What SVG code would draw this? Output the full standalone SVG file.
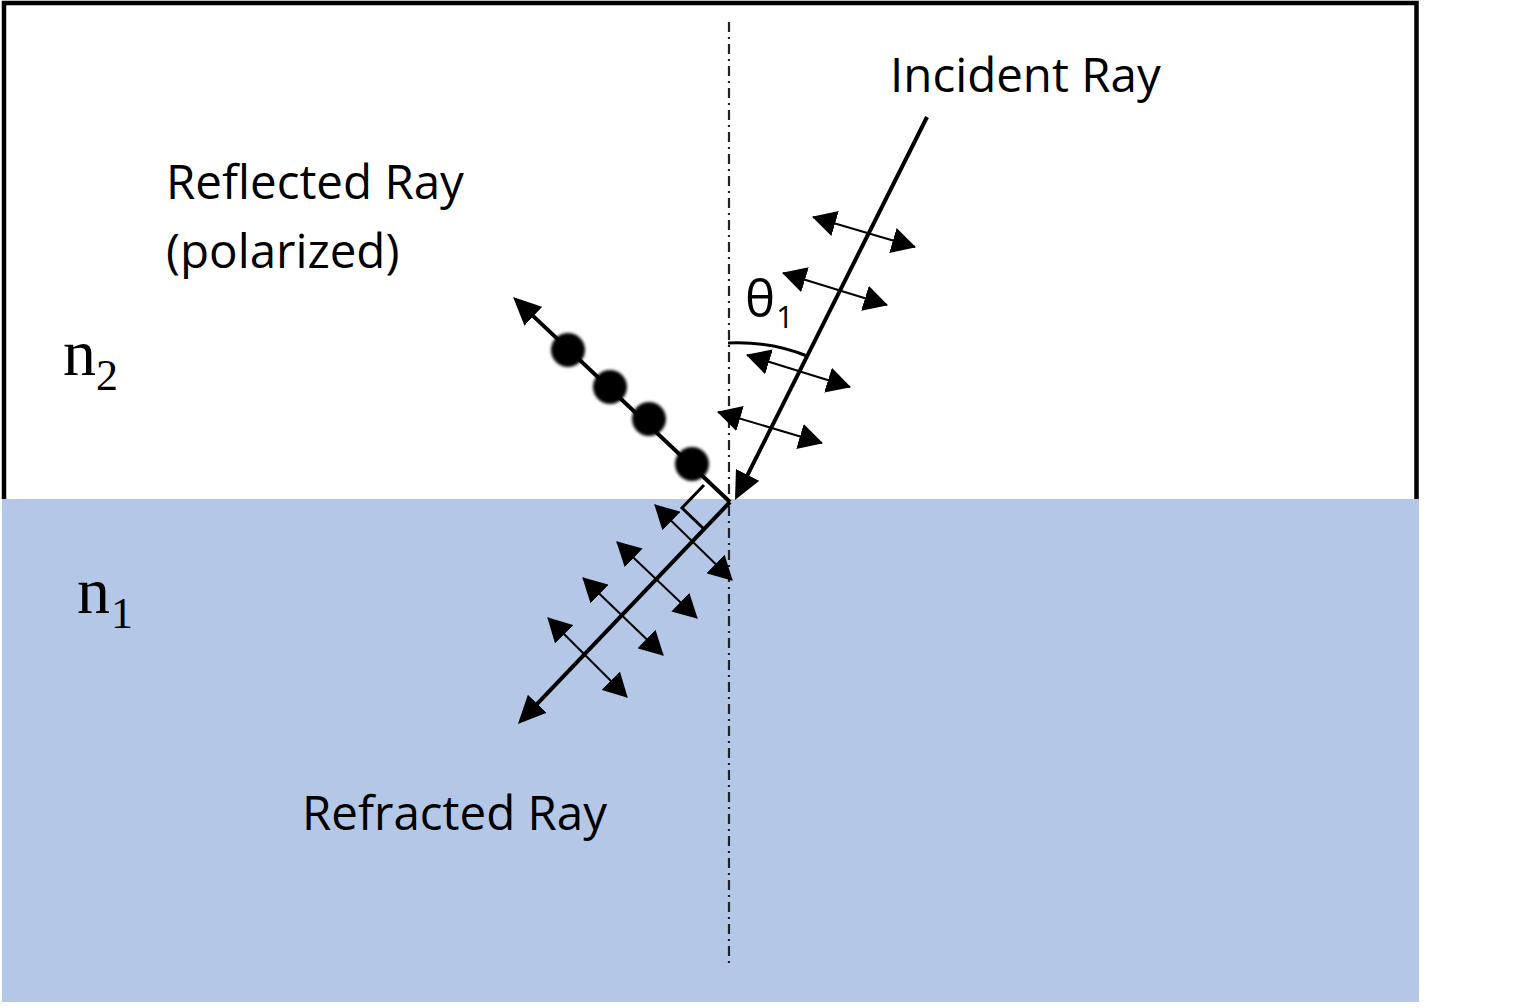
<svg xmlns="http://www.w3.org/2000/svg" width="1517" height="1008" viewBox="0 0 1517 1008">
<style>
.lbl{font-family:"Open Sans","Liberation Sans",sans-serif;font-size:47.5px;fill:#000}
.n{font-family:"Liberation Serif","Times New Roman",serif;fill:#000}
.ray{stroke:#000;stroke-width:4;fill:none}
.pol{stroke:#000;stroke-width:2;fill:none;marker-start:url(#sh);marker-end:url(#sh)}
</style>
<defs>
<marker id="ah" viewBox="0 0 28 26" refX="22" refY="13" markerWidth="28" markerHeight="26" markerUnits="userSpaceOnUse" orient="auto"><path d="M0,0 L28,13 L0,26 Z" fill="#000"/></marker>
<marker id="sh" viewBox="0 0 24 26" refX="23" refY="13" markerWidth="24" markerHeight="26" markerUnits="userSpaceOnUse" orient="auto-start-reverse"><path d="M0,0 L24,13 L0,26 Z" fill="#000"/></marker>
<filter id="blur" x="-30%" y="-30%" width="160%" height="160%"><feGaussianBlur stdDeviation="1.6"/></filter>
</defs>
<rect width="1517" height="1008" fill="#fff"/>
<g id="medium-n1"><rect x="2" y="499" width="1417" height="503" fill="#b4c7e7"/></g>
<g id="medium-n2"><path d="M4,499 V3 H1416.5 V499" fill="none" stroke="#000" stroke-width="4.5"/></g>
<g id="normal"><line x1="729" y1="22" x2="729" y2="966" stroke="#222" stroke-width="2.2" stroke-dasharray="10 5 2 5"/></g>
<g id="connectors">
<path id="incident" class="ray" d="M927,117 L737.7,494.6" marker-end="url(#ah)"/>
<path id="reflected" class="ray" d="M730,502 L517.4,301.1" marker-end="url(#ah)"/>
<path id="refracted" class="ray" d="M730,502 L522.1,719.7" marker-end="url(#ah)"/>
<path id="angle-arc" d="M728,343 Q770,341 807,356" fill="none" stroke="#000" stroke-width="3"/>
<polyline id="right-angle" points="704,485 682,508 705,530" fill="none" stroke="#000" stroke-width="3"/>
<g id="incident-pol">
<line class="pol" x1="813" y1="217" x2="915" y2="247"/>
<line class="pol" x1="783" y1="273" x2="887" y2="305"/>
<line class="pol" x1="747" y1="355" x2="850" y2="387"/>
<line class="pol" x1="718" y1="412" x2="822" y2="443"/>
</g>
<g id="refracted-pol">
<line class="pol" x1="655" y1="505" x2="732" y2="580"/>
<line class="pol" x1="617" y1="542" x2="697" y2="618"/>
<line class="pol" x1="583" y1="578" x2="663" y2="655"/>
<line class="pol" x1="548" y1="618" x2="627" y2="697"/>
</g>
<g id="reflected-pol" filter="url(#blur)" fill="#000">
<circle cx="568" cy="350" r="17"/>
<circle cx="610" cy="387" r="17"/>
<circle cx="649" cy="419" r="17"/>
<circle cx="692" cy="464" r="17"/>
</g>
</g>
<g id="label-incident"><text class="lbl" x="890" y="92">Incident Ray</text></g>
<g id="label-reflected"><text class="lbl" x="166" y="199">Reflected Ray</text><text class="lbl" x="166" y="268">(polarized)</text></g>
<g id="label-refracted"><text class="lbl" x="302" y="830">Refracted Ray</text></g>
<g id="label-theta"><text font-family="Open Sans, Liberation Sans, sans-serif" fill="#000"><tspan x="745" y="317" font-size="51">θ</tspan><tspan x="776" y="328" font-size="31">1</tspan></text></g>
<g id="label-n2"><text class="n"><tspan x="63" y="375" font-size="66">n</tspan><tspan x="96" y="390" font-size="44">2</tspan></text></g>
<g id="label-n1"><text class="n"><tspan x="77" y="613" font-size="66">n</tspan><tspan x="111" y="628" font-size="44">1</tspan></text></g>
</svg>
